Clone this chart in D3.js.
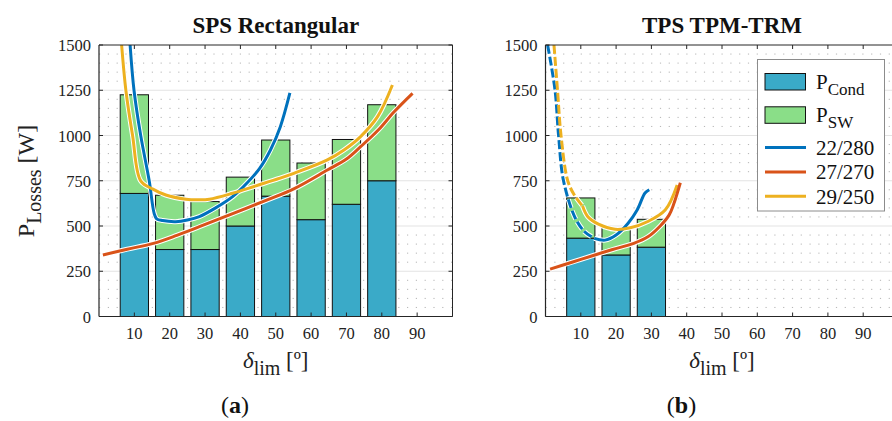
<!DOCTYPE html>
<html>
<head>
<meta charset="utf-8">
<script src="https://cdn.jsdelivr.net/npm/d3@7"></script>
<style>
body { margin: 0; background: #fff; }
text { font-family: "Liberation Serif", "Times New Roman", serif; }
</style>
</head>
<body>
<script>
// bar data
var angles = [10, 20, 30, 40, 50, 60, 70, 80];
var spsCond = [680, 370, 370, 500, 665, 535, 620, 750];
var spsSw = [545, 300, 265, 270, 310, 313, 358, 420];
var tpsAngles = [10, 20, 30];
var tpsCond = [433, 340, 383];
var tpsSw = [222, 148, 154];

var xTicks = [10, 20, 30, 40, 50, 60, 70, 80, 90];
var yTicks = [0, 250, 500, 750, 1000, 1250, 1500];
var seriesNames = ['22/280', '27/270', '29/250'];
var colors = ['#0072bd', '#d95319', '#edb120'];

// curves, [delta, losses]
var spsBlue = [[8.8,1500],[9.9,1250],[11.8,1000],[14.2,750],[15.6,570],[16.3,540],[18,530],[21.7,524],[25,533],[28.4,552],[33,600],[37.8,662],[42,740],[45.5,820],[48.5,920],[51.3,1049],[54,1235]];
var spsOrange = [[1.1,340],[8,372],[15.4,404],[22,448],[28.4,496],[38,570],[47.6,644],[55.1,705],[64.6,809],[70,870],[74,938],[79,1030],[83.5,1131],[88.7,1233]];
var spsYellow = [[6.4,1500],[7.6,1250],[9.5,1000],[11.8,749],[15.1,705],[18.9,671],[24.6,648],[28,645],[31.2,648],[37.8,681],[44.4,722],[51,763],[55.1,791],[64.6,865],[69.3,920],[74,994],[78.8,1104],[83,1279]];
var tpsBlueDash = [[0.6,1500],[2.7,1250],[3.7,1000],[5.1,750],[8.4,545],[11,470],[13.8,432]];
var tpsBlue = [[13.8,432],[16.9,422],[20,450],[23.4,515],[26,590],[28.2,682],[29.4,700]];
var tpsYellowDash = [[2.4,1500],[3.4,1250],[4.4,1000],[6.3,750],[8.2,670],[10.5,610]];
var tpsYellow = [[10.5,610],[12,551],[15,510],[19.7,482],[24,490],[29,525],[33.9,588],[37.3,727]];
var tpsOrange = [[1.3,262],[7.5,300],[14,340],[19,370],[25,404],[29,440],[32.5,500],[35,560],[36.3,620],[38.2,739]];

var W = 892, H = 421;
var svg = d3.select('body').append('svg').attr('width', W).attr('height', H);
svg.append('rect').attr('width', W).attr('height', H).attr('fill', '#fff');

var top0 = 45, bot0 = 316.5;
var y = d3.scaleLinear().domain([0, 1500]).range([bot0, top0]);

function panel(id, x0, x1, title, tag, bars, lines) {
  var x = d3.scaleLinear().domain([0, 100]).range([x0, x1]);
  var g = svg.append('g');

  g.append('clipPath').attr('id', 'clip' + id)
    .append('rect').attr('x', x0).attr('y', top0).attr('width', x1 - x0).attr('height', bot0 - top0);

  // minor grid dotted
  var minor = d3.range(50, 1500, 50).filter(function(v) { return v % 250 != 0; });
  g.selectAll('line.minor').data(minor).enter().append('line')
    .attr('x1', x0).attr('x2', x1).attr('y1', y).attr('y2', y)
    .attr('stroke', '#b5b5b5').attr('stroke-width', 1)
    .attr('stroke-dasharray', '1.2,7.6');
  g.selectAll('line.major').data([250, 500, 750, 1000, 1250]).enter().append('line')
    .attr('x1', x0).attr('x2', x1).attr('y1', y).attr('y2', y)
    .attr('stroke', '#e3e3e3').attr('stroke-width', 1);

  // bars
  var bw = x(8) - x(0);
  var bg = g.append('g');
  bg.selectAll('rect.cond').data(bars.cond).enter().append('rect')
    .attr('x', function(d, i) { return x(bars.ang[i]) - bw / 2; })
    .attr('y', function(d) { return y(d); })
    .attr('width', bw).attr('height', function(d) { return bot0 - y(d); })
    .attr('fill', '#3aaac8').attr('stroke', '#111').attr('stroke-width', 1);
  bg.selectAll('rect.sw').data(bars.sw).enter().append('rect')
    .attr('x', function(d, i) { return x(bars.ang[i]) - bw / 2; })
    .attr('y', function(d, i) { return y(d + bars.cond[i]); })
    .attr('width', bw).attr('height', function(d) { return y(0) - y(d); })
    .attr('fill', '#8ade88').attr('stroke', '#111').attr('stroke-width', 1);

  // curves
  var line = d3.line().x(function(d) { return x(d[0]); }).y(function(d) { return y(d[1]); })
    .curve(d3.curveCatmullRom.alpha(0.5));
  var lg = g.append('g').attr('clip-path', 'url(#clip' + id + ')');
  lines.forEach(function(l) {
    lg.append('path').attr('d', line(l.pts)).attr('fill', 'none')
      .attr('stroke', '#fff').attr('stroke-width', 5).attr('stroke-dasharray', l.dash ? '9,3' : null);
  });
  lines.forEach(function(l) {
    lg.append('path').attr('d', line(l.pts)).attr('fill', 'none')
      .attr('stroke', l.color).attr('stroke-width', 3).attr('stroke-dasharray', l.dash ? '9,3' : null);
  });

  // axes box
  var ax = '#262626';
  g.append('line').attr('x1', x0).attr('x2', x1).attr('y1', top0).attr('y2', top0).attr('stroke', ax);
  g.append('line').attr('x1', x0).attr('x2', x1).attr('y1', bot0).attr('y2', bot0).attr('stroke', ax).attr('stroke-width', 1.2);
  g.append('line').attr('x1', x0).attr('x2', x0).attr('y1', top0).attr('y2', bot0).attr('stroke', ax).attr('stroke-width', 1.2);
  g.append('line').attr('x1', x1).attr('x2', x1).attr('y1', top0).attr('y2', bot0).attr('stroke', ax);

  g.selectAll('line.xt').data(xTicks).enter().append('line')
    .attr('x1', x).attr('x2', x).attr('y1', bot0).attr('y2', bot0 - 4).attr('stroke', ax);
  g.selectAll('line.xtt').data(xTicks).enter().append('line')
    .attr('x1', x).attr('x2', x).attr('y1', top0).attr('y2', top0 + 4).attr('stroke', ax);
  g.selectAll('line.yt').data(yTicks).enter().append('line')
    .attr('x1', x0).attr('x2', x0 + 4).attr('y1', y).attr('y2', y).attr('stroke', ax);
  g.selectAll('line.ytr').data(yTicks).enter().append('line')
    .attr('x1', x1).attr('x2', x1 - 4).attr('y1', y).attr('y2', y).attr('stroke', ax);

  g.selectAll('text.xl').data(xTicks).enter().append('text')
    .attr('x', x).attr('y', 339).attr('text-anchor', 'middle')
    .attr('font-size', 16.5).attr('fill', '#222').text(function(d) { return d; });
  g.selectAll('text.yl').data(yTicks).enter().append('text')
    .attr('x', x0 - 8).attr('y', function(d) { return y(d) + 6; }).attr('text-anchor', 'end')
    .attr('font-size', 16.5).attr('fill', '#222').text(function(d) { return d; });

  var cx = (x0 + x1) / 2;
  g.append('text').attr('x', cx).attr('y', 33).attr('text-anchor', 'middle')
    .attr('font-size', 23).attr('font-weight', 'bold').attr('fill', '#111').text(title);

  var xl = g.append('text').attr('x', cx).attr('y', 368).attr('text-anchor', 'middle')
    .attr('font-size', 23).attr('fill', '#222');
  xl.append('tspan').attr('font-style', 'italic').text('δ');
  xl.append('tspan').attr('dy', 7).attr('font-size', 20).text('lim');
  xl.append('tspan').attr('dy', -7).text(' [º]');

  var tg = g.append('text').attr('x', tag.x).attr('y', 413).attr('text-anchor', 'middle')
    .attr('font-size', 24).attr('fill', '#111');
  tg.append('tspan').text('(');
  tg.append('tspan').attr('font-weight', 'bold').text(tag.t);
  tg.append('tspan').text(')');
  return x;
}

panel('a', 99, 452.5, 'SPS Rectangular', {x: 235, t: 'a'},
  {ang: angles, cond: spsCond, sw: spsSw},
  [{pts: spsBlue, color: colors[0]}, {pts: spsOrange, color: colors[1]}, {pts: spsYellow, color: colors[2]}]);

panel('b', 545.5, 898.5, 'TPS TPM-TRM', {x: 681.5, t: 'b'},
  {ang: tpsAngles, cond: tpsCond, sw: tpsSw},
  [{pts: tpsBlueDash, color: colors[0], dash: true}, {pts: tpsBlue, color: colors[0]},
   {pts: tpsYellowDash, color: colors[2], dash: true}, {pts: tpsYellow, color: colors[2]},
   {pts: tpsOrange, color: colors[1]}]);

// y label
var yl = svg.append('text').attr('transform', 'translate(34,181) rotate(-90)')
  .attr('text-anchor', 'middle').attr('font-size', 24).attr('fill', '#222');
yl.append('tspan').text('P');
yl.append('tspan').attr('dy', 7).attr('font-size', 20).text('Losses');
yl.append('tspan').attr('dy', -7).text(' [W]');

// legend
var leg = svg.append('g');
leg.append('rect').attr('x', 757.5).attr('y', 59.5).attr('width', 127).attr('height', 151.5)
  .attr('fill', '#fff').attr('stroke', '#8c8c8c').attr('stroke-width', 1);
var patches = [{c: '#3aaac8', p: 'Cond'}, {c: '#8ade88', p: 'SW'}];
patches.forEach(function(p, i) {
  var yy = 73.5 + i * 33.3;
  leg.append('rect').attr('x', 765).attr('y', yy).attr('width', 40.5).attr('height', 16.5)
    .attr('fill', p.c).attr('stroke', '#111');
  var t = leg.append('text').attr('x', 816).attr('y', yy + 15).attr('font-size', 21).attr('fill', '#111');
  t.append('tspan').text('P');
  t.append('tspan').attr('dy', 6).attr('font-size', 17).text(p.p);
});
seriesNames.forEach(function(n, i) {
  var yy = 147.5 + i * 24.4;
  leg.append('line').attr('x1', 765).attr('x2', 806).attr('y1', yy).attr('y2', yy)
    .attr('stroke', colors[i]).attr('stroke-width', 3);
  leg.append('text').attr('x', 816).attr('y', yy + 7.5).attr('font-size', 21).attr('fill', '#111').text(n);
});
</script>
</body>
</html>
